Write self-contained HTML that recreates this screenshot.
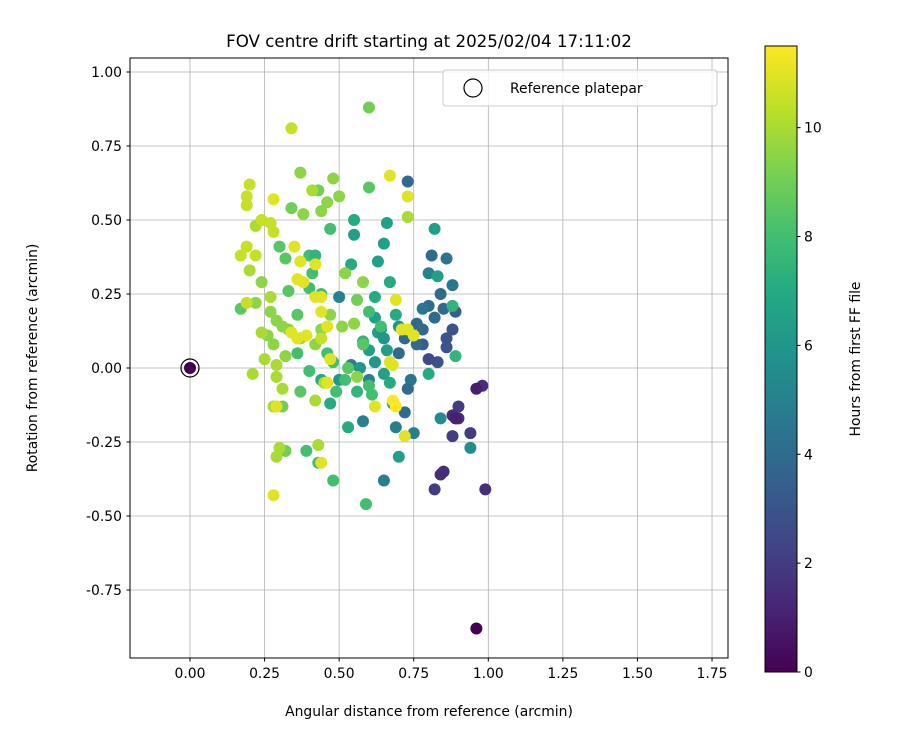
<!DOCTYPE html>
<html><head><meta charset="utf-8"><style>
body{margin:0;background:#fff}
svg text{font-family:"DejaVu Sans","Liberation Sans",sans-serif;fill:#000}
</style></head><body>
<svg id="chart" width="900" height="750" xmlns="http://www.w3.org/2000/svg">
<defs><linearGradient id="vir" x1="0" y1="1" x2="0" y2="0">
<stop offset="0" stop-color="#440154"/><stop offset="0.1" stop-color="#482475"/><stop offset="0.2" stop-color="#414487"/><stop offset="0.3" stop-color="#355f8d"/><stop offset="0.4" stop-color="#2a788e"/><stop offset="0.5" stop-color="#21918c"/><stop offset="0.6" stop-color="#22a884"/><stop offset="0.7" stop-color="#44bf70"/><stop offset="0.8" stop-color="#7ad151"/><stop offset="0.9" stop-color="#bddf26"/><stop offset="1" stop-color="#fde725"/>
</linearGradient></defs>
<g id="grid"></g>
<g id="points"></g>
<rect x="130" y="58" width="598" height="600" fill="none" stroke="#000" stroke-width="1"/>
<g id="ticks"></g>
<text x="429" y="47" font-size="16.7" text-anchor="middle">FOV centre drift starting at 2025/02/04 17:11:02</text>
<text x="429" y="716" font-size="13.9" text-anchor="middle">Angular distance from reference (arcmin)</text>
<text transform="translate(37,358) rotate(-90)" font-size="13.9" text-anchor="middle">Rotation from reference (arcmin)</text>
<g>
<rect x="443" y="70" width="274" height="36" rx="3" fill="#fff" fill-opacity="0.8" stroke="#ccc"/>
<circle cx="473" cy="88" r="9" fill="none" stroke="#000" stroke-width="1.2"/>
<text x="510" y="93" font-size="13.9">Reference platepar</text>
</g>
<rect x="765" y="46" width="32" height="626" fill="url(#vir)" stroke="#000" stroke-width="1"/>
<g id="cbticks"></g>
<text transform="translate(860,359) rotate(-90)" font-size="13.9" text-anchor="middle">Hours from first FF file</text>
</svg>
<script>
const xTicks=[0,0.25,0.5,0.75,1.0,1.25,1.5,1.75];
const yTicks=[-0.75,-0.5,-0.25,0,0.25,0.5,0.75,1.0];
const cbTicks=[0,2,4,6,8,10];
const xs=[0.96,0.98,0.96,0.99,0.94,0.90,0.88,0.90,0.88,0.85,0.84,0.82,0.89,0.83,0.80,0.86,0.88,0.86,
0.73,0.81,0.86,0.80,0.84,0.88,0.80,0.85,0.78,0.89,0.82,0.76,0.78,0.74,0.72,0.78,0.76,0.70,0.74,0.73,0.72,0.69,0.75,0.65,0.60,0.58,0.50,0.54,0.50,0.84,0.94,
0.82,0.83,0.66,0.65,0.63,0.67,0.55,0.55,0.62,0.63,0.64,0.65,0.66,0.60,0.62,0.57,0.65,0.67,0.70,0.80,0.68,0.62,0.69,0.70,0.89,0.88,0.54,0.47,0.53,0.44,0.58,0.56,
0.60,0.59,0.40,0.42,0.40,0.44,0.47,0.41,0.32,0.30,0.33,0.36,0.36,0.40,0.46,0.48,0.52,0.49,0.39,0.43,0.48,0.37,0.56,0.58,0.53,0.60,0.64,0.60,0.61,0.17,0.32,0.31,0.34,0.43,0.50,0.48,0.37,0.38,0.44,0.46,0.60,0.34,0.22,0.20,0.24,0.22,0.27,0.29,0.31,0.26,0.28,0.33,0.37,0.42,0.47,0.52,0.58,0.55,0.51,0.56,0.44,0.32,0.25,0.29,0.21,0.31,0.28,0.29,0.30,0.43,0.42,0.45,
0.19,0.20,0.19,0.28,0.24,0.27,0.28,0.19,0.17,0.19,0.22,0.35,0.37,0.42,0.36,0.38,0.42,0.44,0.44,0.46,0.34,0.36,0.39,0.47,0.44,0.46,0.44,0.28,0.29,0.62,0.68,0.69,0.72,0.67,0.71,0.73,0.75,0.67,0.73,0.69,0.68,0.73,0.41,0.27,0.24,0.29];
const ys=[-0.88,-0.06,-0.07,-0.41,-0.22,-0.13,-0.16,-0.17,-0.23,-0.35,-0.36,-0.41,-0.17,0.02,0.03,0.07,0.13,0.10,
0.63,0.38,0.37,0.32,0.25,0.28,0.21,0.20,0.20,0.19,0.17,0.15,0.13,0.12,0.10,0.08,0.08,0.05,-0.04,-0.07,-0.15,-0.20,-0.22,-0.38,-0.04,-0.18,0.24,0.01,-0.04,-0.17,-0.27,
0.47,0.31,0.49,0.42,0.36,0.29,0.45,0.50,0.17,0.12,0.13,0.10,0.06,0.06,0.02,0.00,-0.02,-0.05,-0.30,-0.02,-0.12,0.24,0.18,0.14,0.04,0.21,0.35,-0.12,-0.20,-0.04,0.09,-0.08,
0.61,-0.46,0.38,0.38,0.27,0.25,0.47,0.32,0.37,0.41,0.26,0.18,0.05,-0.01,0.05,0.02,-0.04,-0.08,-0.28,-0.32,-0.38,-0.08,0.23,0.08,0.00,0.19,0.14,-0.06,-0.09,0.20,-0.28,-0.13,0.54,0.60,0.58,0.64,0.66,0.52,0.53,0.56,0.88,0.81,0.48,0.33,0.29,0.22,0.19,0.16,0.14,0.11,0.08,0.13,0.10,0.08,0.18,0.32,0.29,0.15,0.14,-0.03,0.13,0.04,0.03,-0.03,-0.02,-0.07,-0.13,-0.30,-0.27,-0.26,-0.11,-0.05,
0.58,0.62,0.55,0.57,0.50,0.49,0.46,0.22,0.38,0.41,0.38,0.41,0.36,0.35,0.30,0.29,0.24,0.24,0.19,0.14,0.12,0.10,0.11,0.03,0.10,-0.05,-0.32,-0.43,-0.13,-0.13,-0.11,-0.13,-0.23,0.02,0.13,0.13,0.11,0.65,0.58,0.23,0.01,0.51,0.60,0.24,0.12,0.01];
const hours=[0,1.5,1,1.5,2,2,1.5,1.5,2,1.5,1.5,2,1,3,2.5,3,3,3,
4,4,4.5,5,4,4.5,4,4,4.5,3.5,4,4,4,4.5,4,3.5,4,4,4.5,4,4,5,5,5,5,5,5,5,6,5.5,5.5,
6.5,6.5,6.5,6.5,6.5,7,6.5,7,6.5,6.5,6,6,6.5,6.5,6,6,6.5,7,6.5,7,7,7,7,6,7.5,7.5,7,7,7,7,7.5,7.5,
8.5,8,8,7.5,8,8,8,8,8.5,8.5,8.5,8.5,8,8,8,8,8,8,8,8,8,8.5,9,8.5,8.5,8,8,8,8,8.5,9,9,9,9,9.5,9.5,9.5,9.5,9.5,9.5,9,10.5,10,10,9.5,9.5,9.5,9.5,9.5,9.5,9.5,9.5,9.5,9.5,9.5,9.5,9.5,9.5,9.5,9.5,9.5,9.5,10,10,10,10,10,10,10,10,10,10,
10.5,10.5,10.5,11,10.5,10.5,10.5,10.5,10.5,10.5,10.5,11,11,11,11,11,11,11,11,11,11,11,11,11,10.5,11,11,11,11,11,11.5,11.5,11,11,11,11,11,11,11,11,11,10,10,10,10,10];
const refX=[0], refY=[0];
const NS="http://www.w3.org/2000/svg";
const X=v=>190+(v)*298.3, Y=v=>368-v*296;
const HMAX=11.5, CB=h=>672-h/HMAX*626;
const vir=[[68,1,84],[72,36,117],[65,68,135],[53,95,141],[42,120,142],[33,145,140],[34,168,132],[68,191,112],[122,209,81],[189,223,38],[253,231,37]];
function col(t){t=Math.max(0,Math.min(1,t))*(vir.length-1);const i=Math.min(Math.floor(t),vir.length-2),f=t-i;const c=vir[i].map((a,k)=>Math.round(a+(vir[i+1][k]-a)*f));return `rgb(${c})`;}
function mk(tag,at,parent){const e=document.createElementNS(NS,tag);for(const k in at)e.setAttribute(k,at[k]);parent.appendChild(e);return e;}
const g=document.getElementById('grid'),tk=document.getElementById('ticks'),pts=document.getElementById('points'),cbt=document.getElementById('cbticks');
xTicks.forEach(v=>{const x=X(v);
const l=mk('line',{x1:x,x2:x,y1:58,y2:658,stroke:'#b0b0b0','stroke-width':0.8},g);


mk('line',{x1:x,x2:x,y1:658,y2:661.5,stroke:'#000'},tk);
const t=mk('text',{x:x,y:678,'font-size':13.9,'text-anchor':'middle'},tk);t.textContent=v.toFixed(2);

});
yTicks.forEach(v=>{const y=Y(v);
const l=mk('line',{x1:130,x2:728,y1:y,y2:y,stroke:'#b0b0b0','stroke-width':0.8},g);


mk('line',{x1:126.5,x2:130,y1:y,y2:y,stroke:'#000'},tk);
const t=mk('text',{x:122,y:y+5,'font-size':13.9,'text-anchor':'end'},tk);t.textContent=v.toFixed(2);

});
xs.forEach((v,i)=>{const c=mk('circle',{cx:X(v),cy:Y(ys[i]),r:6,fill:col(hours[i]/HMAX)},pts);

});
refX.forEach((v,i)=>{const c=mk('circle',{cx:X(v),cy:Y(refY[i]),r:6,fill:col(0)},pts);


const r=mk('circle',{cx:X(v),cy:Y(refY[i]),r:9,fill:'none',stroke:'#000','stroke-width':1.2},pts);

});
cbTicks.forEach(v=>{const y=CB(v);
mk('line',{x1:797,x2:800.5,y1:y,y2:y,stroke:'#000'},cbt);
const t=mk('text',{x:804,y:y+5,'font-size':13.9},cbt);t.textContent=v;

});
</script>
</body></html>
